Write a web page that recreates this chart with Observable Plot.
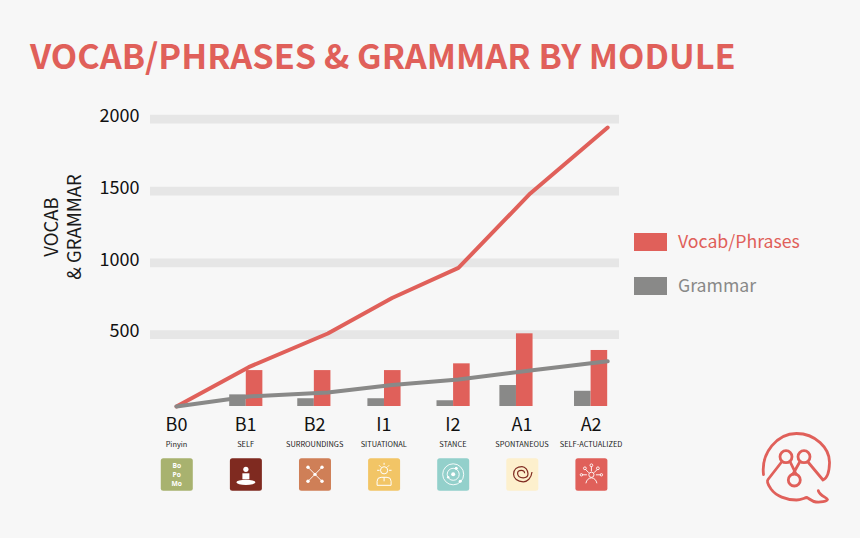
<!DOCTYPE html>
<html><head><meta charset="utf-8">
<script src="https://cdn.jsdelivr.net/npm/d3@7"></script>
<script src="https://cdn.jsdelivr.net/npm/@observablehq/plot@0.6"></script>
<style>
html,body{margin:0;padding:0;background:#f7f7f7;width:860px;height:538px;overflow:hidden;font-family:"Noto Sans CJK SC",sans-serif}
#root{position:relative;width:860px;height:538px}
#root>*{position:absolute}
.t{white-space:nowrap;line-height:1}
#title{left:30px;top:36.500px;font-size:34.3px;font-weight:700;color:#e0605a}
.axt{font-size:18.5px;color:#1a1a1a;transform:translate(-50%,-50%) rotate(-90deg);left:0;top:0}
.sw{width:33px;height:18px;left:634px}
.lg{left:678px;font-size:17.7px}
</style></head><body><div id="root"></div>
<script>
const modules = ["B0","B1","B2","I1","I2","A1","A2"];
const themes = ["Pinyin","SELF","SURROUNDINGS","SITUATIONAL","STANCE","SPONTANEOUS","SELF-ACTUALIZED"];
const vocabBars = [0,250,250,250,297,506,390];
const grammarBars = [0,81,54,54,40,146,106];
const barModule = [0,1.01,1.995,3.01,4.01,4.92,6];
const lineModule = [0,1.045,2.19,3.12,4.08,5.12,6.24];
const vocabLine = [0,274,508,755,965,1483,1942];
const grammarLine = [0,70,97,150,188,251,315];
const yTicks = [500,1000,1500,2000];
const iconColors = ["#a8b26f","#7f2a20","#cf7f57","#f2c566","#93d0cb","#fdf0cd","#e0605a"];
const RED="#e0605a", GRAY="#898988";
const barW=0.24;

const rows = modules.map((m,i)=>({m,i,theme:themes[i],bx:barModule[i],lx:lineModule[i],v:vocabBars[i],g:grammarBars[i],vl:vocabLine[i],gl:grammarLine[i]}));

const glyphs = [
 `<text class="b"><tspan x="16" y="9.500">Bo</tspan><tspan x="16" y="18.800">Po</tspan><tspan x="16" y="28.100">Mo</tspan></text>`,
 `<circle cx="16" cy="11" r="2.6" fill="#fff"/><path d="M12.5 15h7v6h-7z" fill="#fff"/><ellipse cx="16" cy="24" rx="9.5" ry="2.6" fill="#fff"/>`,
 `<g stroke="#fff" fill="none" stroke-width=".9"><path d="M9 9L23 23M23 9L9 23"/></g><g fill="#fff"><circle cx="16" cy="16" r="1.6"/><circle cx="9" cy="9" r="1.7"/><circle cx="23" cy="9" r="1.7"/><circle cx="9" cy="23" r="1.7"/><circle cx="23" cy="23" r="1.7"/></g>`,
 `<g stroke="#fff" fill="none" stroke-width="1"><circle cx="16" cy="12" r="3.6"/><path d="M9 27v-4q0-4 4-4h6q4 0 4 4v4zM16 19v4M16 4.500v2M9 12h2.500M21 12h2.500M11 7l1.500 1.500M21 7l-1.500 1.500"/></g>`,
 `<g stroke="#fff" fill="none" stroke-width=".9"><circle cx="16" cy="16" r="10.500"/><circle cx="16" cy="16" r="6"/></g><g fill="#fff"><circle cx="16" cy="16" r="2"/><circle cx="19" cy="10" r="1.500"/><circle cx="23" cy="23" r="1.500"/><circle cx="11" cy="19" r="1.200"/></g>`,
 `<path d="M25.700 13.700C25 20 21 23.500 17 23.500C11 23.500 7.300 20 7.300 16C7.300 11 11 8.300 15.700 8.300C19 8.300 21.700 12 21.700 15.500C21.700 18 19.500 19.500 17 19.500C14 19.500 11.300 18 11.300 15C11.300 13 13 12 15 12C17 12 18.300 13.500 18.300 15" fill="none" stroke="#7f2a20" stroke-width="1.200"/>`,
 `<g stroke="#fff" fill="none" stroke-width=".9"><circle cx="16" cy="16.500" r="2.600"/><path d="M10.500 25q1-5 5.500-5.500q4.500 .5 5.500 5.500M16 8v5M10 11l3.500 3.500M22 11l-3.500 3.500M6.500 16.500h5M20.500 16.500h5"/><circle cx="16" cy="7" r="1.400"/><circle cx="9.500" cy="10" r="1.400"/><circle cx="22.500" cy="10" r="1.400"/><circle cx="6" cy="16.500" r="1.200"/><circle cx="26" cy="16.500" r="1.200"/></g>`
];

function icons(index, scales){
  const g = d3.create("svg:g");
  rows.forEach((d,k)=>{
    const a = g.append("g").attr("transform",`translate(${scales.x(d.i)-15.2},${scales.y(0)+52.3})`);
    a.append("rect").attr("width",32).attr("height",32.5).attr("rx",2.5).attr("fill",iconColors[k]);
    a.append("g").html(glyphs[k]);
  });
  g.selectAll("text.b").attr("fill","#fff").attr("font-size",6.7).attr("font-weight",700).attr("text-anchor","middle").attr("font-family","Open Sans");
  return g.node();
}

const chart = Plot.plot({
  width:860,height:538,
  marginLeft:150,marginRight:241,marginTop:118.7,marginBottom:132,
  style:{background:"transparent",fontFamily:"Noto Sans CJK SC"},
  x:{type:"linear",domain:[-0.376,6.411],axis:null},
  y:{domain:[0,2000],axis:null},
  marks:[
    Plot.ruleY(yTicks,{stroke:"#e6e6e6",strokeWidth:8.7}),
    Plot.text(yTicks,{x:()=>-0.376,y:d=>d,text:d=>String(d),textAnchor:"end",dx:-11,dy:-3,fontSize:18,fill:"#111"}),
    Plot.rectY(rows.filter(d=>d.g>0),{x1:d=>d.bx-barW,x2:"bx",y1:0,y2:"g",fill:GRAY}),
    Plot.rectY(rows.filter(d=>d.v>0),{x1:"bx",x2:d=>d.bx+barW,y1:0,y2:"v",fill:RED}),
    Plot.line(rows,{x:"lx",y:"vl",stroke:RED,strokeWidth:4,strokeLinejoin:"round",curve:"linear"}),
    Plot.line(rows,{x:"lx",y:"gl",stroke:GRAY,strokeWidth:4,strokeLinejoin:"round",curve:"linear"}),
    Plot.text(rows,{x:"i",y:()=>0,text:"m",dy:19,fontSize:18,fill:"#111"}),
    Plot.text(rows,{x:"i",y:()=>0,text:"theme",dy:38,fontSize:7.4,fill:"#222"}),
    icons
  ]
});

const root=document.getElementById("root");
root.appendChild(chart);
chart.style.left="0";chart.style.top="0";
root.insertAdjacentHTML("beforeend",`
<div id="title" class="t">VOCAB/PHRASES &amp; GRAMMAR BY MODULE</div>
<div class="t axt" style="left:50px;top:227px">VOCAB</div>
<div class="t axt" style="left:73px;top:227px">&amp; GRAMMAR</div>
<div class="sw" style="top:233px;background:${RED}"></div>
<div class="sw" style="top:276.500px;background:${GRAY}"></div>
<div class="t lg" style="top:231.500px;color:${RED}">Vocab/Phrases</div>
<div class="t lg" style="top:275.500px;color:${GRAY}">Grammar</div>
<svg style="left:740px;top:420px" width="110" height="100" viewBox="0 0 110 100" fill="none" stroke="${RED}" stroke-width="2.800" stroke-linecap="round" stroke-linejoin="round">
<path d="M23.500 54.500C21 33 37 13.500 56.500 13.500C75 13.500 90 28 89.500 43C89.300 50 88 58 83 60L68 42"/>
<circle cx="46" cy="36.700" r="6"/><circle cx="64" cy="36.700" r="6"/><circle cx="54.300" cy="60" r="6"/>
<path d="M50 41.500L56 54M60 41.500L53 54"/>
<path d="M42 41.500L28 59.500C26 62 29 66 31 69C36 76 46 80 56.500 80C61 80 64 78 67 77.500C70 79 72 81.500 76 82C80 82.500 87 81.500 87.500 79.500C87 77.500 80 76 78.300 70.700"/>
</svg>`);
</script></body></html>
